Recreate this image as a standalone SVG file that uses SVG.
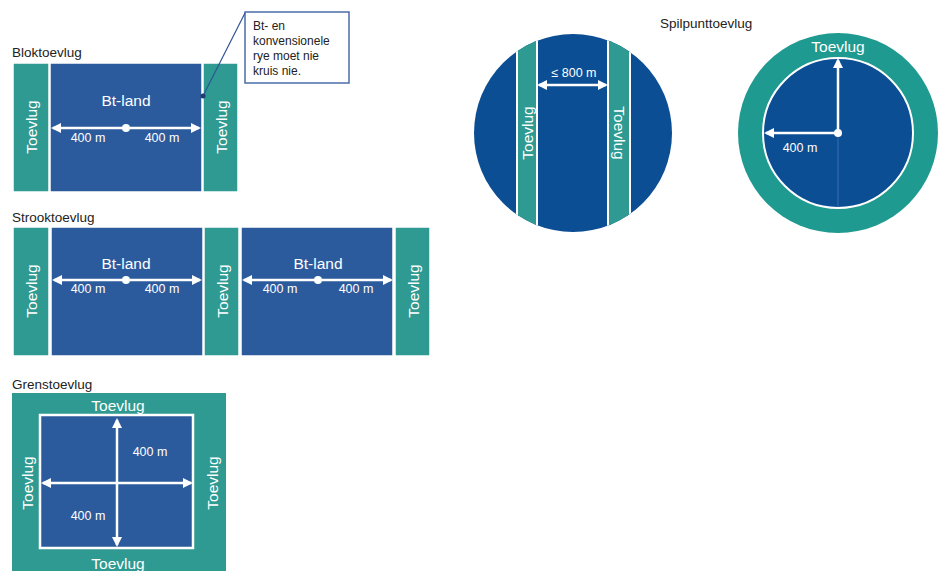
<svg xmlns="http://www.w3.org/2000/svg" width="938" height="571" viewBox="0 0 938 571">
<defs>
<style>
.bg{fill:#ffffff}
.blue{fill:#2C5B9D;stroke:#ffffff;stroke-width:1.5}
.cblue{fill:#0C4E94}
.teal{fill:#2E9A92;stroke:#ffffff;stroke-width:1.5}
.title{font-family:"Liberation Sans",Arial,sans-serif;font-size:13.5px;fill:#222222}
.big{font-family:"Liberation Sans",Arial,sans-serif;font-size:15.5px;fill:#ffffff;text-anchor:middle}
.vt{font-family:"Liberation Sans",Arial,sans-serif;font-size:15.5px;fill:#ffffff;text-anchor:middle;dominant-baseline:central}
.small{font-family:"Liberation Sans",Arial,sans-serif;font-size:12.5px;fill:#ffffff;text-anchor:middle}
.note{font-family:"Liberation Sans",Arial,sans-serif;font-size:12px;fill:#222222}
.arr{stroke:#ffffff;stroke-width:2.5;fill:none}
.wl{stroke:#ffffff;stroke-width:2;fill:none}
</style>
<marker id="ah" viewBox="0 0 10 10" refX="8" refY="5" markerWidth="10" markerHeight="10" markerUnits="userSpaceOnUse" orient="auto-start-reverse">
<path d="M0,0 L10,5 L0,10 z" fill="#ffffff"/>
</marker>
<clipPath id="cc"><circle cx="573" cy="133" r="99"/></clipPath>
</defs>
<rect class="bg" x="0" y="0" width="938" height="571"/>

<g id="blok">
<text class="title" x="12" y="57">Bloktoevlug</text>
<rect class="teal" x="13" y="63" width="36" height="129"/>
<rect class="blue" x="50" y="63" width="152" height="129"/>
<rect class="teal" x="203" y="63" width="35" height="129"/>
<text class="big" x="126" y="106">Bt-land</text>
<text class="vt" transform="translate(31,127) rotate(-90)">Toevlug</text>
<text class="vt" transform="translate(221,127) rotate(-90)">Toevlug</text>
<line class="arr" x1="126" y1="128" x2="53" y2="128" marker-end="url(#ah)"/>
<line class="arr" x1="126" y1="128" x2="199" y2="128" marker-end="url(#ah)"/>
<circle cx="126" cy="128" r="4" fill="#ffffff"/>
<text class="small" x="88" y="142">400 m</text>
<text class="small" x="162" y="142">400 m</text>
</g>

<g id="callout">
<rect x="245" y="12" width="104" height="71" fill="#ffffff" stroke="#4A6EA8" stroke-width="1.5"/>
<text class="note" x="253" y="30">Bt- en</text>
<text class="note" x="253" y="45">konvensionele</text>
<text class="note" x="253" y="60">rye moet nie</text>
<text class="note" x="253" y="75">kruis nie.</text>
</g>

<g id="strook">
<text class="title" x="12" y="222">Strooktoevlug</text>
<rect class="teal" x="13" y="227" width="36" height="129"/>
<rect class="blue" x="51" y="227" width="152" height="129"/>
<rect class="teal" x="204" y="227" width="35" height="129"/>
<rect class="blue" x="241" y="227" width="152" height="129"/>
<rect class="teal" x="395" y="227" width="35" height="129"/>
<text class="big" x="126" y="269">Bt-land</text>
<text class="big" x="318" y="269">Bt-land</text>
<text class="vt" transform="translate(31,291) rotate(-90)">Toevlug</text>
<text class="vt" transform="translate(222,291) rotate(-90)">Toevlug</text>
<text class="vt" transform="translate(413,291) rotate(-90)">Toevlug</text>
<line class="arr" x1="126" y1="280" x2="54" y2="280" marker-end="url(#ah)"/>
<line class="arr" x1="126" y1="280" x2="200" y2="280" marker-end="url(#ah)"/>
<circle cx="126" cy="280" r="4" fill="#ffffff"/>
<line class="arr" x1="318" y1="280" x2="244" y2="280" marker-end="url(#ah)"/>
<line class="arr" x1="318" y1="280" x2="391" y2="280" marker-end="url(#ah)"/>
<circle cx="318" cy="280" r="4" fill="#ffffff"/>
<text class="small" x="88" y="293">400 m</text>
<text class="small" x="162" y="293">400 m</text>
<text class="small" x="280" y="293">400 m</text>
<text class="small" x="356" y="293">400 m</text>
</g>

<g id="grens">
<text class="title" x="12" y="389">Grenstoevlug</text>
<rect x="12" y="393" width="214" height="180" fill="#2E9A92"/>
<rect x="40" y="415" width="153" height="133" fill="#2C5B9D" stroke="#ffffff" stroke-width="2.5"/>
<text class="big" x="118" y="411">Toevlug</text>
<text class="big" x="118" y="569">Toevlug</text>
<text class="vt" transform="translate(27,483) rotate(-90)">Toevlug</text>
<text class="vt" transform="translate(212,483) rotate(-90)">Toevlug</text>
<line class="arr" x1="117" y1="483" x2="117" y2="420" marker-end="url(#ah)"/>
<line class="arr" x1="117" y1="483" x2="117" y2="545" marker-end="url(#ah)"/>
<line class="arr" x1="117" y1="483" x2="43" y2="483" marker-end="url(#ah)"/>
<line class="arr" x1="117" y1="483" x2="191" y2="483" marker-end="url(#ah)"/>
<text class="small" x="150" y="456">400 m</text>
<text class="small" x="88" y="520">400 m</text>
</g>

<g id="spilpunt-strook">
<text class="title" x="660" y="28">Spilpunttoevlug</text>
<circle class="cblue" cx="573" cy="133" r="99"/>
<g clip-path="url(#cc)">
<rect x="517" y="30" width="20" height="210" fill="#2E9A92"/>
<rect x="608" y="30" width="22" height="210" fill="#2E9A92"/>
<line class="wl" x1="517" y1="30" x2="517" y2="240"/>
<line class="wl" x1="537" y1="30" x2="537" y2="240"/>
<line class="wl" x1="608" y1="30" x2="608" y2="240"/>
<line class="wl" x1="630" y1="30" x2="630" y2="240"/>
</g>
<text class="vt" transform="translate(527,133) rotate(-90)">Toevlug</text>
<text class="vt" transform="translate(619,133) rotate(90)">Toevlug</text>
<line class="arr" x1="572" y1="85" x2="539" y2="85" marker-end="url(#ah)"/>
<line class="arr" x1="572" y1="85" x2="606" y2="85" marker-end="url(#ah)"/>
<text class="small" x="574" y="77">≤ 800 m</text>
</g>

<g id="spilpunt-sirkel">
<circle cx="838" cy="133" r="100" fill="#1F9A90"/>
<circle cx="838" cy="133" r="75" fill="#0C4E94" stroke="#ffffff" stroke-width="2"/>
<line x1="838" y1="133" x2="838" y2="207" stroke="#3D6FB0" stroke-width="1"/>
<text class="big" x="838" y="52">Toevlug</text>
<line class="arr" x1="838" y1="133" x2="838" y2="60" marker-end="url(#ah)"/>
<line class="arr" x1="838" y1="133" x2="766" y2="133" marker-end="url(#ah)"/>
<circle cx="838" cy="133" r="4" fill="#ffffff"/>
<text class="small" x="800" y="152">400 m</text>
</g>

<g id="connectors">
<line x1="245" y1="13" x2="203" y2="96" stroke="#2F5597" stroke-width="1.2"/>
<circle cx="203" cy="96" r="2.5" fill="#1F3D6E"/>
</g>
</svg>
